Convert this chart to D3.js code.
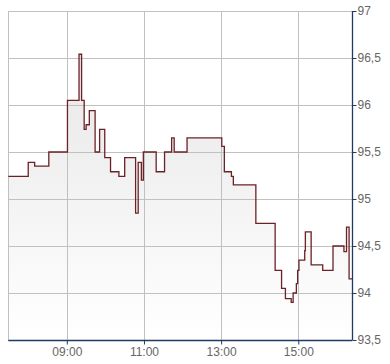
<!DOCTYPE html>
<html><head><meta charset="utf-8">
<script src="https://cdn.jsdelivr.net/npm/d3@7"></script>
<style>body{margin:0;background:#fff}svg{display:block}</style>
</head><body><svg id="c" width="390" height="364"></svg>
<script>
const times = ["07:29","08:00","08:10","08:32","09:01","09:19","09:23","09:27","09:30","09:35","09:44","09:51","09:59","10:08","10:21","10:30","10:47","10:51","10:56","10:59","11:19","11:32","11:43","11:47","12:07","13:01","13:05","13:16","13:19","13:54","14:24","14:34","14:40","14:49","14:52","14:57","14:59","15:01","15:10","15:11","15:20","15:38","15:54","16:11","16:15","16:19","16:24"];
const values = [95.24,95.39,95.35,95.50,96.05,96.54,96.05,95.74,95.79,95.94,95.50,95.74,95.44,95.29,95.24,95.44,94.85,95.39,95.20,95.50,95.29,95.50,95.65,95.50,95.65,95.56,95.29,95.24,95.15,94.74,94.24,94.05,93.94,93.90,94.00,94.10,94.24,94.35,94.45,94.65,94.30,94.24,94.50,94.44,94.70,94.15,94.15];
const yTicks = [93.5,94,94.5,95,95.5,96,96.5,97];
const xTickLabels = ["09:00","11:00","13:00","15:00"];
const xDomain = ["07:29","16:24"];

const parse = d3.timeParse("%H:%M");
const data = times.map((t,i)=>({t:parse(t), v:values[i]}));
const svg = d3.select("#c");
const L=8.3, R=352.3, T=11, B=340;
const x = d3.scaleTime().domain(xDomain.map(parse)).range([L,R]);
const y = d3.scaleLinear().domain([93.5,97]).range([B,T]);

const defs = svg.append("defs");
const g = defs.append("linearGradient").attr("id","gr").attr("gradientUnits","userSpaceOnUse")
  .attr("x1",0).attr("y1",T).attr("x2",0).attr("y2",B);
g.append("stop").attr("offset",0).attr("stop-color","#e4e4e4");
g.append("stop").attr("offset",1).attr("stop-color","#ffffff");

// area
svg.append("path").datum(data)
  .attr("d", d3.area().curve(d3.curveStepAfter).x(d=>x(d.t)).y0(B).y1(d=>y(d.v)))
  .attr("fill","url(#gr)");

// grid
svg.append("g").selectAll("line").data(yTicks).join("line")
  .attr("x1",L).attr("x2",R).attr("y1",d=>Math.round(y(d))+0.5).attr("y2",d=>Math.round(y(d))+0.5)
  .attr("stroke","#c0c0c0").attr("stroke-width",1);
svg.append("g").selectAll("line").data(xTickLabels).join("line")
  .attr("x1",d=>Math.round(x(parse(d)))+0.5).attr("x2",d=>Math.round(x(parse(d)))+0.5)
  .attr("y1",T).attr("y2",B).attr("stroke","#c0c0c0").attr("stroke-width",1);
svg.append("line").attr("x1",Math.round(L)+0.5).attr("x2",Math.round(L)+0.5).attr("y1",T).attr("y2",B)
  .attr("stroke","#c0c0c0");

// line
svg.append("path").datum(data)
  .attr("d", d3.line().curve(d3.curveStepAfter).x(d=>x(d.t)).y(d=>y(d.v)))
  .attr("fill","none").attr("stroke","#6b2226").attr("stroke-width",1.3);

// axes
const axisColor="#1f3a66";
const yAxis = svg.append("g").attr("transform",`translate(${Math.round(R)+0.5},0)`)
  .call(d3.axisRight(y).tickValues(yTicks).tickSize(4).tickPadding(1)
    .tickFormat(d=>String(d).replace(".",",")));
const xAxis = svg.append("g").attr("transform",`translate(0,${B+0.5})`)
  .call(d3.axisBottom(x).tickValues(xTickLabels.map(parse)).tickSize(4).tickPadding(3)
    .tickFormat(d3.timeFormat("%H:%M")));
[yAxis,xAxis].forEach(a=>{
  a.select(".domain").attr("stroke",axisColor).attr("stroke-width",1.3);
  a.selectAll(".tick line").attr("stroke",axisColor);
  a.selectAll("text").attr("fill","#666").attr("font-family","'Liberation Sans',Arial,sans-serif").attr("font-size",12);
});
xAxis.select(".domain").attr("d",`M${L},0H${R}`);
yAxis.select(".domain").attr("d",`M0,${T}V${B}`);
</script></body></html>
